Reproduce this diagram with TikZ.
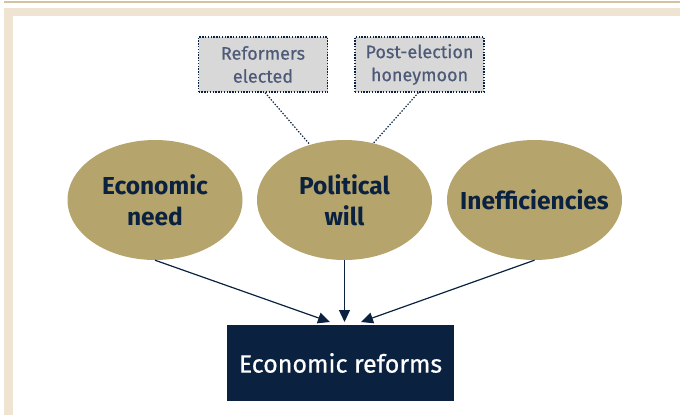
\documentclass[tikz,border=0pt]{standalone}
\usepackage{fontspec}
\setmainfont{Fira Sans}
\newfontfamily\mediumfont[FakeBold=0.6]{Fira Sans}
\usetikzlibrary{shapes.geometric,arrows.meta}

\definecolor{stripcol}{HTML}{D5C39F}
\definecolor{framecol}{HTML}{EFE4D1}
\definecolor{goldcol}{HTML}{B5A46B}
\definecolor{navycol}{HTML}{0A2240}
\definecolor{notefill}{HTML}{D9D8D8}
\definecolor{notetext}{HTML}{4E5B78}

\tikzset{
  factor/.style={ellipse, fill=goldcol, minimum width=175pt, minimum height=120pt,
    inner xsep=-14pt, inner ysep=0pt, align=center, text=navycol,
    font=\fontsize{24.5}{31}\selectfont\bfseries},
  note/.style={rectangle, fill=notefill, draw=navycol, dash pattern=on 1.4pt off 1.4pt,
    line width=1.1pt, minimum width=129pt, minimum height=55pt, inner sep=0pt,
    align=center, text=notetext, font=\mediumfont\fontsize{18}{23}\selectfont},
  outcome/.style={rectangle, fill=navycol, minimum width=227pt, minimum height=76pt,
    inner sep=0pt, text=white, font=\mediumfont\fontsize{25}{30}\selectfont},
  cause/.style={draw=navycol, line width=1.2pt, -{Triangle[length=12pt,width=11pt]}},
  link/.style={draw=navycol, dash pattern=on 1.4pt off 1.6pt, line width=1.2pt}
}

\begin{document}
\begin{tikzpicture}[x=1pt,y=-1pt]
  \useasboundingbox (0,0) rectangle (680,416);
  % page frame
  \fill[stripcol] (4,0.5) rectangle (680,3);
  \fill[framecol] (4,8) rectangle (680,16);
  \fill[framecol] (4,8) rectangle (13,415);

  % driving factors
  \node[factor] (en) at (155,200) {Economic\\need};
  \node[factor] (pw) at (344.5,200) {Political\\will};
  \node[factor] (ie) at (534.5,200) {Inefficiencies};

  % notes on political will
  \node[note] (re) at (263,64.5) {Reformers\\elected};
  \node[note] (ph) at (419.5,64.5) {Post-election\\honeymoon};
  \draw[link] ([xshift=2pt]re.south) -- (pw.122);
  \draw[link] ([xshift=-1pt]ph.south) -- (pw.63);

  % outcome
  \node[outcome] (er) at (340.5,363) {Economic reforms};
  \coordinate (t1) at (330,322);
  \coordinate (t2) at (344.5,322);
  \coordinate (t3) at (361,322);
  \draw[cause] (en.south) -- (t1);
  \draw[cause] (pw.south) -- (t2);
  \draw[cause] (ie.south) -- (t3);
\end{tikzpicture}
\end{document}
